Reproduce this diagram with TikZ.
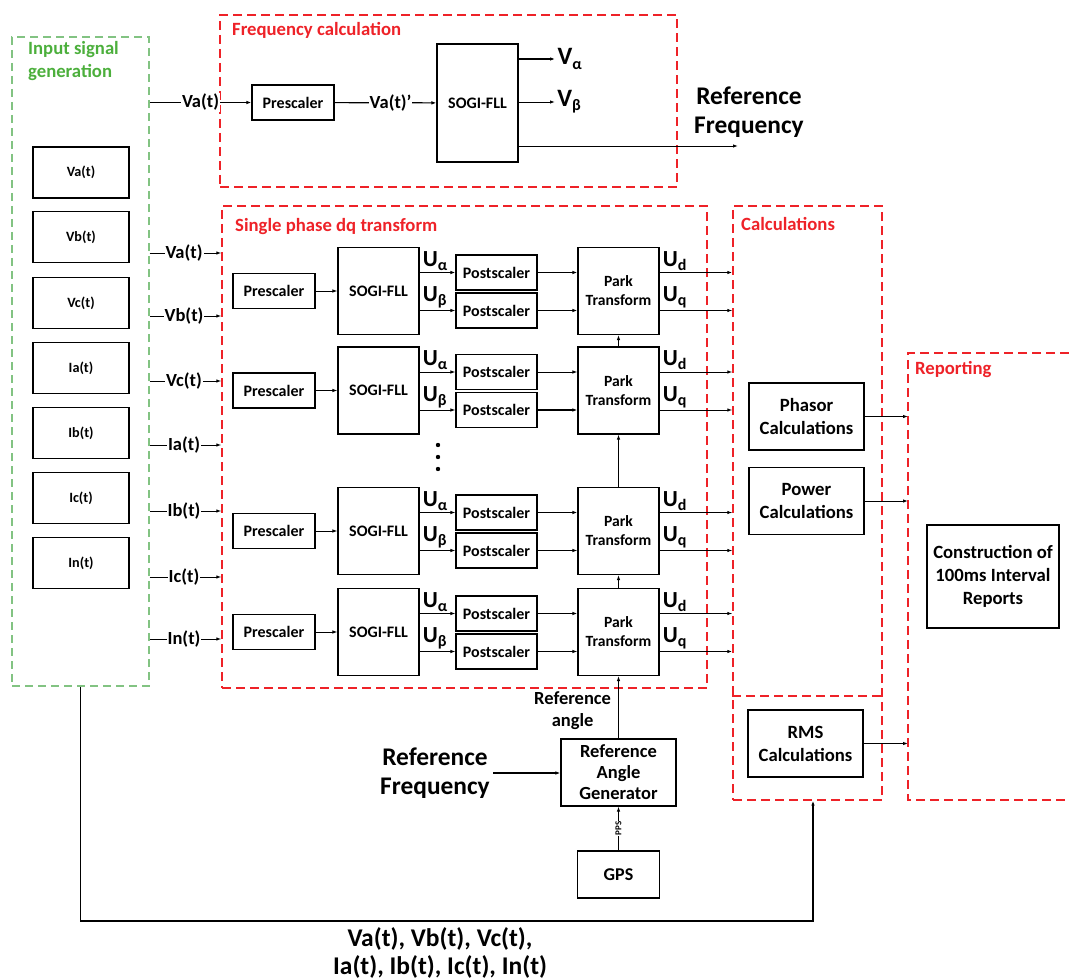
\documentclass[tikz,border=0pt]{standalone}
\usepackage{fontspec}
\setmainfont{Carlito}
\usetikzlibrary{arrows.meta}
\definecolor{grpred}{RGB}{238,34,40}
\definecolor{grpgreen}{RGB}{130,195,130}
\definecolor{txtgreen}{RGB}{76,175,60}
\newcommand\fsz[2]{\fontsize{#1}{#2}\selectfont}
\newcommand\sig[2]{#1\raisebox{-0.35ex}{\fsz{16}{16}#2}}
\begin{document}
\begin{tikzpicture}[x=1pt,y=-1pt,
  blk/.style={draw=black,line width=1.1pt,fill=white,align=center,inner sep=1pt,font=\bfseries\fsz{16}{19}},
  grp/.style={draw=grpred,line width=1.4pt,dash pattern=on 9pt off 5pt,inner sep=0},
  ggrp/.style={draw=grpgreen,line width=1.2pt,dash pattern=on 8pt off 5pt,inner sep=0},
  head/.style={text=grpred,font=\bfseries\fsz{18.7}{22},anchor=west,inner sep=0},
  arr/.style={-{Latex[length=5pt,width=3.5pt]},line width=0.9pt},
  heavy/.style={line width=1.6pt},
  lab/.style={fill=white,inner sep=1pt,font=\bfseries\fsz{18.5}{21}},
  big/.style={font=\bfseries\fsz{25.4}{29},align=center},
  ulab/.style={font=\bfseries\fsz{23}{23},anchor=south west,inner sep=0}
]
\useasboundingbox (0,0) rectangle (1069,979);

% ---- group frames ----
\node[ggrp,minimum width=137pt,minimum height=649pt] (inp) at (80.5,361.5) {};
\node[grp,minimum width=457pt,minimum height=172pt] (freq) at (448.5,101) {};
\node[grp,minimum width=485pt,minimum height=482pt] (dq) at (464.5,447) {};
\node[grp,minimum width=149pt,minimum height=594pt] (calc) at (807.5,503) {};
\coordinate (dv) at (0,696);
\draw[grp] (calc.west |- dv) -- (calc.east |- dv);
\draw[grp] (1069,353) -| (908,800) -- (1069,800);
\coordinate (rep) at (908,576);

% ---- group titles ----
\node[text=txtgreen,font=\bfseries\fsz{18.7}{23},anchor=north west,align=left,inner sep=0] (inptitle) at (28,41) {Input signal\\generation};
\node[head] (freqtitle) at (232,30) {Frequency calculation};
\node[head] (dqtitle) at (235,227) {Single phase dq transform};
\node[head] (calctitle) at (741,224) {Calculations};
\node[head] (reptitle) at (915,370) {Reporting};

% ---- input signal boxes ----
\foreach \n/\t/\y in {va/Va(t)/172.5, vb/Vb(t)/237, vc/Vc(t)/303, ia/Ia(t)/368, ib/Ib(t)/433, ic/Ic(t)/498, in/In(t)/563}
  \node[blk,font=\bfseries\fsz{14.2}{17},minimum width=96pt,minimum height=51pt] (box\n) at (81,\y) {\t};

% ---- signals into the dq transform ----
\foreach \n/\t/\y in {a/Va(t)/253, b/Vb(t)/316, c/Vc(t)/381, d/Ia(t)/445, e/Ib(t)/511, f/Ic(t)/577, g/In(t)/639} {
  \coordinate (sig\n) at (0,\y);
  \draw[arr] (inp.east |- sig\n) -- node[lab,pos=0.48]{\t} (dq.west |- sig\n);
}

% ---- frequency calculation ----
\node[blk,minimum width=82pt,minimum height=35pt] (fpre) at (293,102.5) {Prescaler};
\node[blk,minimum width=81pt,minimum height=118pt] (fsogi) at (477.5,103) {SOGI-FLL};
\draw[arr,line width=1.2pt] (inp.east |- fpre.west) -- node[lab,pos=0.5]{Va(t)} (fpre.west);
\draw[arr,line width=1.2pt] (fpre) -- node[lab,pos=0.55]{Va(t)’} (fsogi);
\coordinate (valpha) at (555,59);
\coordinate (vbeta) at (555,102);
\coordinate (rf) at (738,146);
\draw[arr,line width=1.2pt] (fsogi.east |- valpha) -- (valpha) node[anchor=west,inner sep=2pt,font=\bfseries\fsz{25}{25}] {\sig{V}{α}};
\draw[arr] (fsogi.east |- vbeta) -- (vbeta) node[anchor=west,inner sep=2pt,font=\bfseries\fsz{25}{25}] {\sig{V}{β}};
\draw[arr] (fsogi.east |- rf) -- (rf);
\node[big] (rftext) at (749,112) {Reference\\Frequency};

% ---- single phase dq transform rows ----
% per row: centre, then the line styles of alpha-in, alpha-out, beta-out, d-out, q-out
\foreach \r/\c/\sa/\pa/\pb/\od/\oq in {1/291/heavy/heavy/heavy/heavy/arr, 2/390.5/arr/arr/heavy/arr/arr, 3/531/arr/heavy/arr/arr/arr, 4/632/arr/heavy/arr/arr/heavy} {
  \node[blk,minimum width=82pt,minimum height=35pt] (pre\r) at (274,\c) {Prescaler};
  \node[blk,minimum width=81pt,minimum height=87pt] (sogi\r) at (378.5,\c) {SOGI-FLL};
  \node[blk,minimum width=81pt,minimum height=35pt] (pa\r) at (496.5,\c-18.5) {Postscaler};
  \node[blk,minimum width=81pt,minimum height=35pt] (pb\r) at (496.5,\c+19.5) {Postscaler};
  \node[blk,font=\bfseries\fsz{15.6}{19},minimum width=81pt,minimum height=87pt] (park\r) at (618.5,\c) {Park\\Transform};
  \draw[arr] (pre\r) -- (sogi\r);
  \draw[arr,\sa] (sogi\r.east |- pa\r) -- (pa\r);
  \draw[arr] (sogi\r.east |- pb\r) -- (pb\r);
  \draw[arr,\pa] (pa\r) -- (park\r.west |- pa\r);
  \draw[arr,\pb] (pb\r) -- (park\r.west |- pb\r);
  \draw[arr,\od] (park\r.east |- pa\r) -- (calc.west |- pa\r);
  \draw[arr,\oq] (park\r.east |- pb\r) -- (calc.west |- pb\r);
  \path (sogi\r.east |- pa\r) node[ulab,xshift=3pt,yshift=2pt] {\sig{U}{α}};
  \path (sogi\r.east |- pb\r) node[ulab,xshift=3pt,yshift=2pt] {\sig{U}{β}};
  \path (park\r.east |- pa\r) node[ulab,xshift=3pt,yshift=2pt] {\sig{U}{d}};
  \path (park\r.east |- pb\r) node[ulab,xshift=3pt,yshift=2pt] {\sig{U}{q}};
}
\foreach \y in {445,457,469} \fill (438,\y) circle (2.2pt);
\draw[arr] (park2) -- (park1);
\draw[arr] (park3) -- (park2);
\draw[arr] (park4) -- (park3);

% ---- reference angle ----
\node[blk,font=\bfseries\fsz{18.5}{21},minimum width=115pt,minimum height=67pt] (rag) at (618.5,772.5) {Reference\\Angle\\Generator};
\node[blk,font=\bfseries\fsz{18}{21},minimum width=82pt,minimum height=47pt] (gps) at (618.5,874.5) {GPS};
\draw[arr] (rag) -- node[anchor=east,font=\bfseries\fsz{18.5}{22},align=center,inner sep=2pt,xshift=-5pt,pos=0.45]{Reference\\angle} (park4);
\draw[arr] (gps) -- node[rotate=90,font=\bfseries\fsz{9}{9},fill=white,inner sep=0.5pt]{PPS} (rag);
\node[big] (rf2) at (435,773) {Reference\\Frequency};
\draw[arr,line width=1.3pt] (rf2.east) -- (rag.west |- rf2.east);

% ---- calculations ----
\node[blk,font=\bfseries\fsz{18.7}{23},minimum width=115pt,minimum height=67pt] (phasor) at (806.5,416.5) {Phasor\\Calculations};
\node[blk,font=\bfseries\fsz{18.7}{23},minimum width=115pt,minimum height=67pt] (power) at (806.5,501) {Power\\Calculations};
\node[blk,font=\bfseries\fsz{18.7}{23},minimum width=115pt,minimum height=67pt] (rms) at (805.5,743.5) {RMS\\Calculations};
\draw[arr] (phasor) -- (phasor.east -| rep);
\draw[arr] (power) -- (power.east -| rep);
\draw[arr,line width=1.2pt] (rms) -- (rms.east -| rep);

% ---- reporting ----
\node[blk,font=\bfseries\fsz{18.7}{23},minimum width=132pt,minimum height=103pt] (cons) at (993,576.5) {Construction of\\100ms Interval\\Reports};

% ---- raw signals to the RMS stage ----
\coordinate (fb) at (813,921);
\draw[arr,line width=1.3pt] (inp.south) |- (fb) -- (calc.south -| fb);
\node[font=\bfseries\fsz{25.5}{28},align=center] (fbtext) at (440,953) {Va(t), Vb(t), Vc(t),\\Ia(t), Ib(t), Ic(t), In(t)};
\end{tikzpicture}
\end{document}
